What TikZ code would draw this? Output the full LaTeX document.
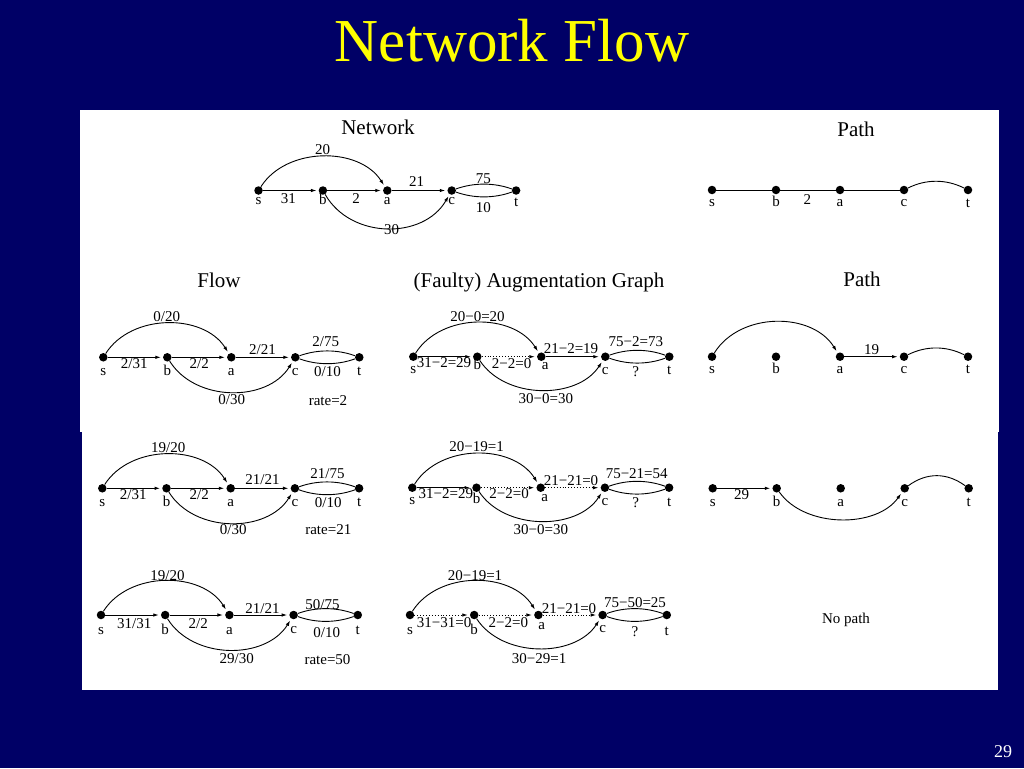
\documentclass[tikz,border=0pt]{standalone}
\usepackage{fontspec}
\setmainfont{Liberation Serif}
\usetikzlibrary{arrows.meta}
\definecolor{bgnavy}{RGB}{0,0,102}
\definecolor{ttlyellow}{RGB}{255,255,0}
\tikzset{
  dot/.style={circle, fill=black, inner sep=0pt, minimum size=8.5pt},
  vlab/.style={font=\fontsize{15}{15}\selectfont, inner sep=0pt, anchor=base},
  elab/.style={font=\fontsize{15}{15}\selectfont, inner sep=0pt},
  ttl/.style={font=\fontsize{21}{22}\selectfont, inner sep=0pt, anchor=base},
  ln/.style={line width=0.9pt},
  arr/.style={ln, shorten >=2pt, -{Latex[length=5.5pt,width=3.5pt]}},
  darr/.style={arr, dotted},
}
% five vertices: prefix, x of s, y, spacing
\newcommand\fivenodes[4]{%
  \node[dot] (#1s) at (#2,#3) {};
  \node[dot] (#1b) at ({#2+#4},#3) {};
  \node[dot] (#1a) at ({#2+2*#4},#3) {};
  \node[dot] (#1c) at ({#2+3*#4},#3) {};
  \node[dot] (#1t) at ({#2+4*#4},#3) {};}
% vertex labels: prefix, dy s, dy b, dx a, dy a, dy c, dy t
\newcommand\vlabels[7]{%
  \node[vlab] (#1Ls) at ([yshift=-#2pt]#1s.center) {s};
  \node[vlab] (#1Lb) at ([yshift=-#3pt]#1b.center) {b};
  \node[vlab] (#1La) at ([xshift=#4pt,yshift=-#5pt]#1a.center) {a};
  \node[vlab] (#1Lc) at ([yshift=-#6pt]#1c.center) {c};
  \node[vlab] (#1Lt) at ([yshift=-#7pt]#1t.center) {t};}
% flow / augmentation edges: prefix, style s-b, style b-a, style a-c, depth of b-c arc
\newcommand\flowedges[5]{%
  \draw[#2] (#1s) -- (#1b);
  \draw[#3] (#1b) -- (#1a);
  \draw[#4] (#1a) -- (#1c);
  \draw[arr] (#1s) .. controls +(28,-44) and +(-28,-44) .. (#1a);
  \draw[arr] (#1b) .. controls +(28,#5) and +(-28,#5) .. (#1c);
  \draw[ln] (#1c) .. controls +(22,-8) and +(-22,-8) .. (#1t);
  \draw[ln] (#1c) .. controls +(22,8) and +(-22,8) .. (#1t);}
\begin{document}
\begin{tikzpicture}[x=1pt,y=-1pt]
\useasboundingbox (0,0) rectangle (1024,768);
\fill[bgnavy] (0,0) rectangle (1024,768);
\fill[white] (80,110) rectangle (999,432);
\fill[white] (82,432) rectangle (998,690);

\node[font=\fontsize{61}{61}\selectfont, text=ttlyellow, anchor=base, inner sep=0pt] (title) at (512,62) {Network Flow};
\node[font=\fontsize{18}{18}\selectfont, text=white, anchor=base, inner sep=0pt] (pgno) at (1003,757) {29};

% section titles
\node[ttl] (tNet) at (378,134) {Network};
\node[ttl] (tPath1) at (856,136) {Path};
\node[ttl] (tFlow) at (219,287) {Flow};
\node[ttl] (tAug) at (539,287) {(Faulty) Augmentation Graph};
\node[ttl] (tPath2) at (862,286) {Path};

% ---------- Network ----------
\fivenodes{n}{258.5}{190.5}{64.4}
\vlabels{n}{13.5}{13.5}{0}{13.5}{13.5}{15.5}
\draw[arr] (ns) -- (nb);
\draw[arr] (nb) -- (na);
\draw[arr] (na) -- (nc);
\draw[arr] (ns) .. controls +(28,-44) and +(-28,-44) .. (na);
\draw[arr] (nb) .. controls +(28,49) and +(-28,49) .. (nc);
\draw[ln] (nc) .. controls +(22,-8) and +(-22,-8) .. (nt);
\draw[ln] (nc) .. controls +(22,8) and +(-22,8) .. (nt);
\node[elab] (nl1) at (322.7,149.3) {20};
\node[elab] (nl2) at (288.3,198.3) {31};
\node[elab] (nl3) at (356,198.3) {2};
\node[elab] (nl4) at (416.7,181.7) {21};
\node[elab] (nl5) at (483.3,178.3) {75};
\node[elab] (nl6) at (483.3,207.3) {10};
\node[elab] (nl7) at (391.7,230) {30};

% ---------- Path 1 ----------
\fivenodes{p}{712}{190}{64}
\vlabels{p}{16.7}{16.7}{0}{16.7}{16.7}{17}
\draw[ln] (ps) -- (pb);
\draw[ln] (pb) -- (pa);
\draw[ln] (pa) -- (pc);
\draw[ln] (pc) .. controls +(22,-11) and +(-22,-11) .. (pt);
\node[elab] (pl1) at (807.3,199.3) {2};

% ---------- Flow row 2 ----------
\fivenodes{f}{103.3}{357.3}{64}
\vlabels{f}{17.7}{17.7}{0}{17.7}{17.7}{18}
\flowedges{f}{arr}{arr}{arr}{45}
\node[elab] (fl1) at (166.7,316.7) {0/20};
\node[elab] (fl2) at (134.2,363.3) {2/31};
\node[elab] (fl3) at (199.2,363.3) {2/2};
\node[elab] (fl4) at (262.5,349.3) {2/21};
\node[elab] (fl5) at (325.8,341.7) {2/75};
\node[elab] (fl6) at (327.5,371.7) {0/10};
\node[elab] (fl7) at (231.7,399.3) {0/30};
\node[elab] (fl8) at (328,401) {rate=2};

% ---------- Augmentation row 2 ----------
\fivenodes{g}{413.3}{356.7}{64}
\vlabels{g}{16.6}{13}{4}{13}{18}{18}
\flowedges{g}{arr}{darr}{arr}{43}
\node[elab] (gl1) at (477.5,316.7) {20−0=20};
\node[elab] (gl2) at (444,363) {31−2=29};
\node[elab] (gl3) at (511.7,364) {2−2=0};
\node[elab] (gl4) at (571,348.5) {21−2=19};
\node[elab] (gl5) at (635.8,342) {75−2=73};
\node[elab] (gl6) at (635.7,371.7) {?};
\node[elab] (gl7) at (545.8,399) {30−0=30};

% ---------- Path row 2 ----------
\fivenodes{q}{712}{356.7}{64}
\vlabels{q}{16.7}{16.7}{0}{16.7}{16.7}{17}
\draw[arr] (qs) .. controls +(28,-45) and +(-28,-45) .. (qa);
\draw[arr] (qa) -- (qc);
\draw[ln] (qc) .. controls +(22,-11) and +(-22,-11) .. (qt);
\node[elab] (ql1) at (871.7,350) {19};

% ---------- Flow row 3 ----------
\fivenodes{h}{102.3}{488.3}{64.2}
\vlabels{h}{17.7}{17.7}{0}{17.7}{17.7}{18}
\flowedges{h}{arr}{arr}{arr}{45}
\node[elab] (hl1) at (168.3,447.3) {19/20};
\node[elab] (hl2) at (133.3,495) {2/31};
\node[elab] (hl3) at (199.2,495) {2/2};
\node[elab] (hl4) at (262.5,480) {21/21};
\node[elab] (hl5) at (327.5,473.3) {21/75};
\node[elab] (hl6) at (328.3,502.7) {0/10};
\node[elab] (hl7) at (233.3,529.3) {0/30};
\node[elab] (hl8) at (328.3,530) {rate=21};

% ---------- Augmentation row 3 ----------
\fivenodes{k}{412.3}{487.7}{64.2}
\vlabels{k}{16.3}{15.6}{4}{13.5}{17.3}{19}
\flowedges{k}{arr}{darr}{darr}{43}
\node[elab] (kl1) at (476.7,446.7) {20−19=1};
\node[elab] (kl2) at (445.8,494) {31−2=29};
\node[elab] (kl3) at (509.2,494) {2−2=0};
\node[elab] (kl4) at (571,480.5) {21−21=0};
\node[elab] (kl5) at (636.7,473.3) {75−21=54};
\node[elab] (kl6) at (635.7,502.7) {?};
\node[elab] (kl7) at (540.8,529.3) {30−0=30};

% ---------- Path row 3 ----------
\fivenodes{r}{712.7}{488.3}{64}
\vlabels{r}{17.7}{17.7}{0}{17.7}{17.7}{18}
\draw[arr] (rs) -- (rb);
\draw[arr] (rb) .. controls +(28,40) and +(-28,40) .. (rc);
\draw[ln] (rc) .. controls +(22,-16) and +(-22,-16) .. (rt);
\node[elab] (rl1) at (741.7,495) {29};

% ---------- Flow row 4 ----------
\fivenodes{u}{101}{615}{64.2}
\vlabels{u}{19.5}{19.5}{0}{19.5}{18.3}{19.5}
\flowedges{u}{arr}{arr}{arr}{45}
\node[elab] (ul1) at (167.5,576) {19/20};
\node[elab] (ul2) at (134.2,623.3) {31/31};
\node[elab] (ul3) at (198.3,623.3) {2/2};
\node[elab] (ul4) at (262.5,608.3) {21/21};
\node[elab] (ul5) at (322.5,604.3) {50/75};
\node[elab] (ul6) at (326.7,632.7) {0/10};
\node[elab] (ul7) at (236.7,658.3) {29/30};
\node[elab] (ul8) at (327.5,659.3) {rate=50};

% ---------- Augmentation row 4 ----------
\fivenodes{v}{410}{615}{64.2}
\vlabels{v}{19}{19}{3.4}{14}{17.7}{20}
\flowedges{v}{darr}{darr}{darr}{43}
\node[elab] (vl1) at (475,576) {20−19=1};
\node[elab] (vl2) at (444.2,622.7) {31−31=0};
\node[elab] (vl3) at (508.3,622.7) {2−2=0};
\node[elab] (vl4) at (569,608.5) {21−21=0};
\node[elab] (vl5) at (635,602.3) {75−50=25};
\node[elab] (vl6) at (635,631.7) {?};
\node[elab] (vl7) at (539.2,658.3) {30−29=1};

\node[elab] (nopath) at (846,620) {No path};
\end{tikzpicture}
\end{document}
